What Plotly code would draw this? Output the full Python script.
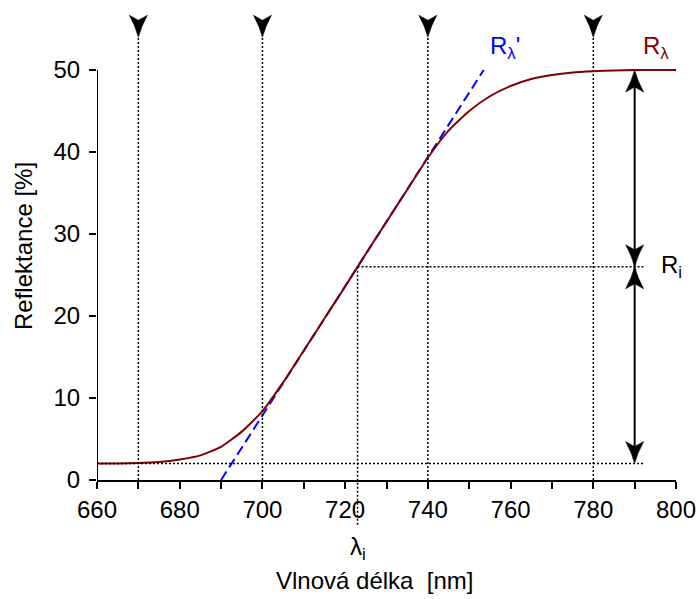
import plotly.graph_objects as go

# ---- data ----
wavelength = [660, 665, 670, 675, 680, 685, 690, 695, 700, 705, 710, 715, 720, 723,
              725, 730, 735, 740, 745, 750, 755, 760, 765, 770, 775, 780, 785, 790, 795, 800]
reflectance = [2.0, 2.02, 2.07, 2.2, 2.5, 3.0, 4.05, 5.9, 8.4, 11.9, 15.8, 19.7, 23.6, 26.0,
               27.6, 31.5, 35.4, 39.3, 42.6, 45.0, 46.8, 48.05, 48.9, 49.4, 49.7, 49.85, 49.95, 50, 50, 50]
tangent_x = [690, 753.5]
tangent_y = [0, 50]
marker_wavelengths = [670, 700, 740, 780]
marker_top = 54
lambda_i = 723
r_i = 26
r_min = 2
r_max = 50
arrow_x = 790
guide_end_x = 792.5
x_ticks = [660, 680, 700, 720, 740, 760, 780, 800]
x_tick_labels = ["660", "680", "700", "720", "740", "760", "780", "800"]
x_minor_step = 10
y_ticks = [0, 10, 20, 30, 40, 50]
y_tick_labels = ["0", "10", "20", "30", "40", "50"]
x_range = [660, 800]
y_range = [0, 57.32]

FONT = "Liberation Sans, Arial, sans-serif"
FS = 24
DARKRED = "#800000"
BLUE = "#0000ff"
DOT = "2px,2px"

fig = go.Figure()
fig.add_trace(go.Scatter(x=tangent_x, y=tangent_y, mode="lines",
                         line=dict(color=BLUE, width=2, dash="10px,5px"),
                         hoverinfo="skip", showlegend=False))
fig.add_trace(go.Scatter(x=wavelength, y=reflectance, mode="lines",
                         line=dict(color=DARKRED, width=2, shape="spline", smoothing=0.5),
                         showlegend=False))

shapes = []
# y axis line (0..50 only)
shapes.append(dict(type="line", xref="x", yref="y", x0=x_range[0], x1=x_range[0],
                   y0=0, y1=r_max, line=dict(color="black", width=2)))

head_down = "M0,0 Q-3,11 -9,22 L0,17 L9,22 Q3,11 0,0 Z"
head_up = "M0,0 Q-3,-11 -9,-22 L0,-17 L9,-22 Q3,-11 0,0 Z"


def head(x, tip_y, direction):
    return dict(type="path", xref="x", yref="y", xsizemode="pixel", ysizemode="pixel",
                xanchor=x, yanchor=tip_y, path=head_down if direction == "down" else head_up,
                fillcolor="black", line=dict(color="black", width=0.5))


# vertical marker lines with down arrowheads
for mx in marker_wavelengths:
    shapes.append(dict(type="line", xref="x", yref="y", x0=mx, x1=mx, y0=0, y1=marker_top,
                       line=dict(color="black", width=1.5, dash=DOT)))
    shapes.append(head(mx, marker_top, "down"))

# lambda_i vertical dotted line (extends below the axis)
px_i = (lambda_i - x_range[0]) / (x_range[1] - x_range[0])
shapes.append(dict(type="line", xref="paper", yref="paper", x0=px_i, x1=px_i,
                   y0=r_i / y_range[1], y1=-0.096,
                   line=dict(color="black", width=1.5, dash=DOT)))
# horizontal dotted guides
shapes.append(dict(type="line", xref="x", yref="y", x0=lambda_i, x1=guide_end_x, y0=r_i, y1=r_i,
                   line=dict(color="black", width=1.5, dash=DOT)))
shapes.append(dict(type="line", xref="x", yref="y", x0=x_range[0], x1=guide_end_x, y0=r_min, y1=r_min,
                   line=dict(color="black", width=1.5, dash=DOT)))
# double arrows
shapes.append(dict(type="line", xref="x", yref="y", x0=arrow_x, x1=arrow_x, y0=r_min + 0.5, y1=r_max - 0.5,
                   line=dict(color="black", width=2)))
shapes.append(head(arrow_x, r_max, "up"))
shapes.append(head(arrow_x, r_i, "down"))
shapes.append(head(arrow_x, r_i, "up"))
shapes.append(head(arrow_x, r_min, "down"))


def ann(text, x, y, xref, yref, color="black", angle=0):
    return dict(text=text, x=x, y=y, xref=xref, yref=yref, textangle=angle,
                xanchor="center", yanchor="middle", showarrow=False,
                font=dict(size=FS, color=color, family=FONT))


annotations = [
    ann("Reflektance [%]", -0.126, 0.498, "paper", "paper", angle=-90),
    ann("Vlnová délka\u00a0 [nm]", 0.479, -0.213, "paper", "paper"),
    ann("λ<sub>i</sub>", lambda_i, -0.145, "x", "paper"),
    ann("R<sub>i</sub>", 798.8, r_i, "x", "y"),
    ann("R<sub>λ</sub>", 795.2, 52.8, "x", "y", color=DARKRED),
    ann("R<sub>λ</sub>'", 758.6, 52.7, "x", "y", color=BLUE),
]

fig.update_layout(
    width=699, height=599,
    margin=dict(l=97, r=23, t=10, b=119, autoexpand=False),
    paper_bgcolor="white", plot_bgcolor="white",
    font=dict(family=FONT, size=FS, color="black"),
    shapes=shapes, annotations=annotations,
    xaxis=dict(range=x_range, tickvals=x_ticks, ticktext=x_tick_labels, automargin=False,
               showline=True, linecolor="black", linewidth=2, mirror=False,
               ticks="outside", ticklen=7, tickwidth=2, tickcolor="black",
               minor=dict(dtick=x_minor_step, tick0=x_range[0], ticks="outside",
                          ticklen=7, tickwidth=2, tickcolor="black", showgrid=False),
               showgrid=False, zeroline=False, tickfont=dict(size=FS)),
    yaxis=dict(range=y_range, tickvals=y_ticks, ticktext=y_tick_labels, showline=False,
               automargin=False, ticklabelstandoff=4,
               ticks="outside", ticklen=7, tickwidth=2, tickcolor="black",
               showgrid=False, zeroline=False, tickfont=dict(size=FS)),
)

fig.write_html("out.html")
